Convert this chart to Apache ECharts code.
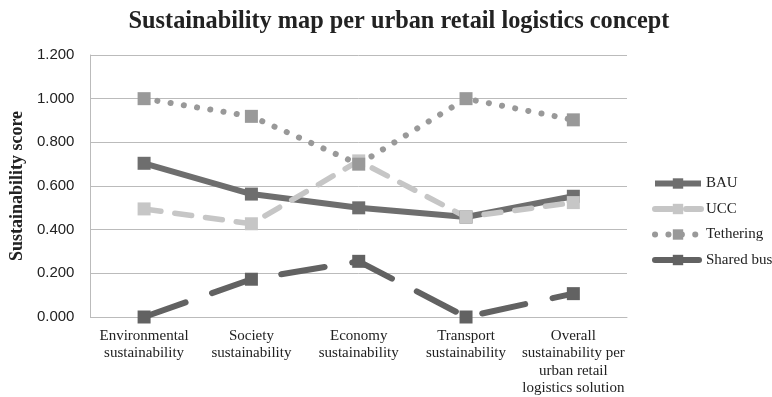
<!DOCTYPE html>
<html><head><meta charset="utf-8">
<script src="https://cdn.jsdelivr.net/npm/echarts@6/dist/echarts.min.js"></script>
<style>html,body{margin:0;padding:0;background:#fff}#c{width:772px;height:397px}</style>
</head><body><div id="c"></div>
<script>
var categories = ["Environmental\nsustainability","Society\nsustainability","Economy\nsustainability","Transport\nsustainability","Overall\nsustainability per\nurban retail\nlogistics solution"];
var bau = [0.704, 0.563, 0.500, 0.458, 0.553];
var ucc = [0.495, 0.427, 0.715, 0.458, 0.524];
var tethering = [1.000, 0.919, 0.700, 1.000, 0.903];
var sharedBus = [0.000, 0.173, 0.255, 0.000, 0.107];
var yTicks = {min: 0, max: 1.2, interval: 0.2};

var serif = '"Liberation Serif","Times New Roman",serif';
var chart = echarts.init(document.getElementById('c'), null, {renderer:'canvas'});
function mk(name, data, color, lineType, cap, w){
  return {name:name, type:'line', data:data, symbol:'rect', symbolSize:13,
    itemStyle:{color:color}, lineStyle:{color:color, width:w||5.5, type:lineType, cap:cap||'butt'},
    animation:false, z: 2};
}
chart.setOption({
  animation:false,
  title:{text:'Sustainability map per urban retail logistics concept', left:394, top:5, textAlign:'center',
    textStyle:{fontFamily:serif, fontWeight:'bold', fontSize:24.3, color:'#222'}},
  grid:{left:89, right:145, top:55, bottom:80},
  legend:{orient:'vertical', left:652, top:176, padding:0, itemGap:10.5, itemWidth:46, itemHeight:13,
    lineStyle:{width:6},
    textStyle:{fontFamily:serif, fontSize:15, color:'#222'},
    data:['BAU','UCC','Tethering','Shared bus']},
  xAxis:{type:'category', data:categories, boundaryGap:true,
    axisLine:{lineStyle:{color:'#bbb', width:1}}, axisTick:{show:false},
    axisLabel:{fontFamily:serif, fontSize:15, color:'#222', interval:0, lineHeight:17.5, margin:10}},
  yAxis:{type:'value', min:yTicks.min, max:yTicks.max, interval:yTicks.interval,
    name:'Sustainability score', nameLocation:'middle', nameGap:62, nameRotate:90,
    nameTextStyle:{fontFamily:serif, fontWeight:'bold', fontSize:18, color:'#222'},
    axisLine:{show:true, lineStyle:{color:'#bbb'}}, axisTick:{show:false},
    splitLine:{lineStyle:{color:'#bbb', width:1}},
    axisLabel:{fontFamily:'"Liberation Sans",Arial,sans-serif', fontSize:15, color:'#222', margin:16,
      formatter:function(v){return v.toFixed(3);}}},
  series:[
    mk('BAU', bau, '#6e6e6e', 'solid', 'butt', 6),
    mk('UCC', ucc, '#c6c6c6', [17,14], 'round'),
    mk('Tethering', tethering, '#999999', [0.1,13.3], 'round', 6),
    mk('Shared bus', sharedBus, '#626262', [44,28], 'round', 6)
  ]
});
</script></body></html>
